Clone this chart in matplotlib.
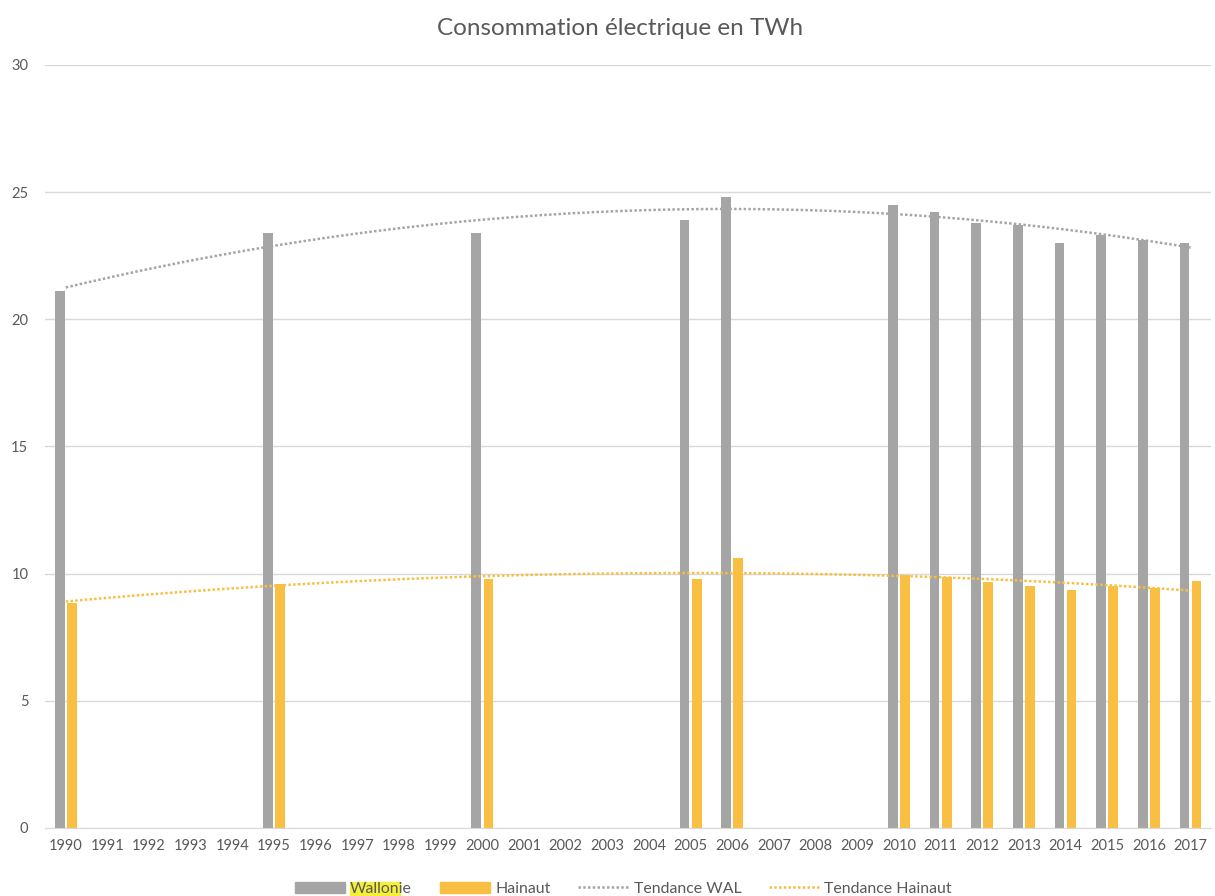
import numpy as np
import matplotlib.pyplot as plt
from matplotlib.patches import Rectangle
from matplotlib.lines import Line2D
from matplotlib.patches import Patch

plt.rcParams['font.family'] = ['Lato', 'DejaVu Sans']

# categories on the x axis (every year, some left empty)
years = [str(y) for y in range(1990, 2018)]

# consumption in TWh, None where no figure is available
wallonie = [21.1, None, None, None, None, 23.4, None, None, None, None,
            23.4, None, None, None, None, 23.9, 24.8, None, None, None,
            24.5, 24.2, 23.8, 23.7, 23.0, 23.3, 23.1, 23.0]
hainaut = [8.85, None, None, None, None, 9.6, None, None, None, None,
           9.8, None, None, None, None, 9.8, 10.6, None, None, None,
           9.95, 9.85, 9.65, 9.5, 9.35, 9.5, 9.45, 9.7]

GRAY = '#A5A5A5'
GOLD = '#F8BF42'
TXT = '#595959'


def to_array(values):
    return np.array([np.nan if v is None else v for v in values], dtype=float)


def poly_trend(values, xs):
    # order-2 polynomial trend over category positions (Excel style)
    y = to_array(values)
    idx = np.arange(len(y))
    ok = ~np.isnan(y)
    coef = np.polyfit(idx[ok], y[ok], 2)
    return np.polyval(coef, xs)


fig = plt.figure(figsize=(12.15, 8.96), dpi=100)
ax = fig.add_axes([0.037, 0.076, 0.96, 0.8515])

x = np.arange(len(years))
w = 0.235
ax.bar(x - 0.145, np.nan_to_num(to_array(wallonie)), width=w, color=GRAY, zorder=2)
ax.bar(x + 0.145, np.nan_to_num(to_array(hainaut)), width=w, color=GOLD, zorder=2)

xs = np.linspace(0, len(years) - 1, 300)
ax.plot(xs, poly_trend(wallonie, xs), color=GRAY, lw=1.8, dashes=(1, 0.9), zorder=3)
ax.plot(xs, poly_trend(hainaut, xs), color=GOLD, lw=1.8, dashes=(1, 0.9), zorder=3)

ax.set_xlim(-0.5, len(years) - 0.5)
ax.set_ylim(0, 30)
ax.set_yticks(range(0, 31, 5))
ax.set_xticks(x)
ax.set_xticklabels(years)
ax.grid(axis='y', color='#D9D9D9', lw=1.0, zorder=0)
ax.set_axisbelow(True)
for s in ['top', 'right', 'left']:
    ax.spines[s].set_visible(False)
ax.spines['bottom'].set_color('#D9D9D9')
ax.tick_params(axis='both', length=0, colors=TXT, labelsize=10.5)
ax.tick_params(axis='y', pad=12)
ax.tick_params(axis='x', pad=8)

fig.text(0.51, 0.968, 'Consommation électrique en TWh', ha='center', va='center',
         fontsize=17.5, color=TXT)

handles = [Patch(color=GRAY), Patch(color=GOLD),
           Line2D([], [], color=GRAY, lw=1.8, dashes=(1, 0.9)),
           Line2D([], [], color=GOLD, lw=1.8, dashes=(1, 0.9))]
labels = ['Wallonie', 'Hainaut', 'Tendance WAL', 'Tendance Hainaut']
leg = fig.legend(handles, labels, loc='center', bbox_to_anchor=(0.513, 0.008),
                 ncol=4, frameon=False, fontsize=11.4, handlelength=3.2,
                 columnspacing=1.75, handletextpad=0.3, labelcolor=TXT)

# yellow marker highlight behind the first letters of "Wallonie"
fig.canvas.draw()
r = fig.canvas.get_renderer()
t0 = leg.get_texts()[0]
bb = t0.get_window_extent(r)
tmp = fig.text(0, 0, 'Wallon', fontproperties=t0.get_fontproperties())
tw = tmp.get_window_extent(r).width
tmp.remove()
W, H = fig.bbox.width, fig.bbox.height
fig.patches.append(Rectangle((bb.x0 / W, bb.y0 / H), tw / W, bb.height / H,
                             transform=fig.transFigure, color='#F5EF3A', zorder=1))

fig.savefig('out.png', dpi=100)
